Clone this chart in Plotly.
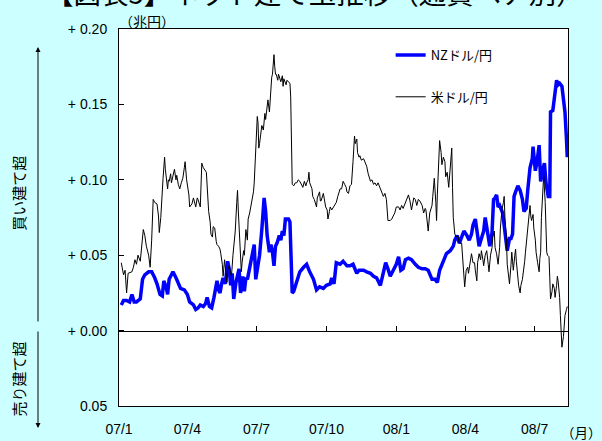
import plotly.graph_objects as go

# ---- NZドル/円 net position (trillion yen) ----
nz_dates = (
    ["2007-01-04", "2007-01-07", "2007-01-11", "2007-01-15", "2007-01-18", "2007-01-21", "2007-01-24", "2007-01-29"]
    + ["2007-02-01", "2007-02-04", "2007-02-09", "2007-02-13", "2007-02-17", "2007-02-20", "2007-02-24", "2007-02-27"]
    + ["2007-03-01", "2007-03-04", "2007-03-06", "2007-03-08", "2007-03-11", "2007-03-13", "2007-03-17", "2007-03-20", "2007-03-23", "2007-03-28"]
    + ["2007-04-01", "2007-04-04", "2007-04-09", "2007-04-12", "2007-04-15", "2007-04-18", "2007-04-22", "2007-04-25", "2007-04-27", "2007-04-30"]
    + ["2007-05-03", "2007-05-06", "2007-05-10", "2007-05-12", "2007-05-14", "2007-05-16", "2007-05-18", "2007-05-21", "2007-05-24", "2007-05-26", "2007-05-28", "2007-05-30"]
    + ["2007-06-01", "2007-06-04", "2007-06-06", "2007-06-08", "2007-06-10", "2007-06-13", "2007-06-15", "2007-06-17", "2007-06-19", "2007-06-21", "2007-06-24", "2007-06-26", "2007-06-28", "2007-06-30"]
    + ["2007-07-02", "2007-07-05", "2007-07-08", "2007-07-10", "2007-07-11", "2007-07-13", "2007-07-15", "2007-07-18", "2007-07-20", "2007-07-22", "2007-07-24", "2007-07-26", "2007-07-28", "2007-07-31"]
    + ["2007-08-02", "2007-08-04", "2007-08-06", "2007-08-08", "2007-08-12", "2007-08-14", "2007-08-15", "2007-08-17", "2007-08-19", "2007-08-23", "2007-08-27"]
    + ["2007-09-01", "2007-09-05", "2007-09-09", "2007-09-14", "2007-09-18", "2007-09-22", "2007-09-27"]
    + ["2007-10-01", "2007-10-06", "2007-10-08", "2007-10-11", "2007-10-14", "2007-10-19", "2007-10-23", "2007-10-28"]
    + ["2007-11-01", "2007-11-05", "2007-11-10", "2007-11-13", "2007-11-14", "2007-11-19", "2007-11-23", "2007-11-28"]
    + ["2007-12-02", "2007-12-06", "2007-12-11", "2007-12-15", "2007-12-18", "2007-12-21", "2007-12-24", "2007-12-28"]
    + ["2008-01-01", "2008-01-04", "2008-01-07", "2008-01-10", "2008-01-13", "2008-01-17", "2008-01-21", "2008-01-26", "2008-01-30"]
    + ["2008-02-04", "2008-02-08", "2008-02-12", "2008-02-17", "2008-02-21", "2008-02-24", "2008-02-27"]
    + ["2008-03-03", "2008-03-07", "2008-03-12", "2008-03-16", "2008-03-18", "2008-03-21", "2008-03-24", "2008-03-27", "2008-03-30"]
    + ["2008-04-03", "2008-04-06", "2008-04-09", "2008-04-11", "2008-04-14", "2008-04-17", "2008-04-19", "2008-04-22", "2008-04-25", "2008-04-27", "2008-04-30"]
    + ["2008-05-03", "2008-05-06", "2008-05-08", "2008-05-10", "2008-05-12", "2008-05-14", "2008-05-16", "2008-05-20", "2008-05-22", "2008-05-24", "2008-05-26", "2008-05-29", "2008-05-31"]
    + ["2008-06-02", "2008-06-04", "2008-06-06", "2008-06-09", "2008-06-12", "2008-06-15", "2008-06-17", "2008-06-20", "2008-06-22", "2008-06-25", "2008-06-28", "2008-06-29"]
    + ["2008-07-02", "2008-07-04", "2008-07-07", "2008-07-09", "2008-07-12", "2008-07-14", "2008-07-16", "2008-07-19", "2008-07-21", "2008-07-22", "2008-07-25", "2008-07-28", "2008-07-30"]
    + ["2008-08-01", "2008-08-03", "2008-08-06", "2008-08-08", "2008-08-10", "2008-08-12", "2008-08-13"]
)
nz_values = (
    [0.017, 0.020, 0.020, 0.019, 0.024, 0.019, 0.019, 0.021]
    + [0.034, 0.037, 0.039, 0.039, 0.035, 0.031, 0.024, 0.023]
    + [0.033, 0.029, 0.024, 0.034, 0.037, 0.039, 0.035, 0.032, 0.028, 0.027]
    + [0.024, 0.019, 0.017, 0.014, 0.015, 0.017, 0.016, 0.018, 0.022, 0.016]
    + [0.015, 0.022, 0.033, 0.027, 0.025, 0.031, 0.035, 0.031, 0.046, 0.041, 0.030, 0.038]
    + [0.021, 0.032, 0.036, 0.041, 0.025, 0.036, 0.026, 0.035, 0.034, 0.039, 0.047, 0.051, 0.057, 0.034]
    + [0.041, 0.050, 0.067, 0.083, 0.088, 0.079, 0.063, 0.052, 0.057, 0.052, 0.043, 0.056, 0.058, 0.063]
    + [0.060, 0.066, 0.063, 0.074, 0.074, 0.072, 0.048, 0.025, 0.026, 0.033, 0.039]
    + [0.042, 0.044, 0.039, 0.034, 0.027, 0.029, 0.028]
    + [0.030, 0.031, 0.035, 0.031, 0.045, 0.044, 0.046, 0.043]
    + [0.043, 0.044, 0.038, 0.040, 0.040, 0.040, 0.039, 0.038]
    + [0.036, 0.035, 0.030, 0.038, 0.045, 0.041, 0.036, 0.040]
    + [0.044, 0.049, 0.040, 0.041, 0.047, 0.048, 0.047, 0.044, 0.042]
    + [0.041, 0.041, 0.040, 0.034, 0.034, 0.032, 0.040]
    + [0.047, 0.051, 0.053, 0.056, 0.060, 0.063, 0.058, 0.063, 0.066]
    + [0.063, 0.060, 0.064, 0.070, 0.074, 0.063, 0.056, 0.061, 0.066, 0.075, 0.066]
    + [0.056, 0.065, 0.087, 0.088, 0.090, 0.082, 0.083, 0.078, 0.069, 0.064, 0.053, 0.061, 0.061]
    + [0.064, 0.089, 0.092, 0.096, 0.093, 0.087, 0.079, 0.081, 0.093, 0.108, 0.114, 0.122]
    + [0.106, 0.111, 0.123, 0.099, 0.107, 0.111, 0.098, 0.089, 0.089, 0.145, 0.146, 0.161, 0.166]
    + [0.163, 0.164, 0.162, 0.154, 0.145, 0.127, 0.115]
)

# ---- 米ドル/円 net position (trillion yen) ----
us_dates = (
    ["2007-01-04", "2007-01-07", "2007-01-09", "2007-01-11", "2007-01-13", "2007-01-18", "2007-01-20", "2007-01-22", "2007-01-24", "2007-01-26", "2007-01-29", "2007-01-31"]
    + ["2007-02-02", "2007-02-04", "2007-02-06", "2007-02-09", "2007-02-11", "2007-02-13", "2007-02-15", "2007-02-17", "2007-02-20", "2007-02-22", "2007-02-23", "2007-02-25", "2007-02-26", "2007-02-28"]
    + ["2007-03-02", "2007-03-03", "2007-03-06", "2007-03-07", "2007-03-08", "2007-03-10", "2007-03-11", "2007-03-13", "2007-03-15", "2007-03-17", "2007-03-18", "2007-03-20", "2007-03-22", "2007-03-24", "2007-03-26", "2007-03-28", "2007-03-29", "2007-03-31"]
    + ["2007-04-01", "2007-04-03", "2007-04-04", "2007-04-07", "2007-04-09", "2007-04-11", "2007-04-12", "2007-04-14", "2007-04-15", "2007-04-18", "2007-04-20", "2007-04-22", "2007-04-24", "2007-04-26", "2007-04-29"]
    + ["2007-05-01", "2007-05-02", "2007-05-04", "2007-05-05", "2007-05-07", "2007-05-09", "2007-05-10", "2007-05-12", "2007-05-14", "2007-05-15", "2007-05-17", "2007-05-18", "2007-05-20", "2007-05-23", "2007-05-24", "2007-05-26", "2007-05-28", "2007-05-29", "2007-05-31"]
    + ["2007-06-03", "2007-06-05", "2007-06-06", "2007-06-07", "2007-06-09", "2007-06-11", "2007-06-12", "2007-06-14", "2007-06-15", "2007-06-17", "2007-06-19", "2007-06-20", "2007-06-22", "2007-06-25", "2007-06-27", "2007-06-28", "2007-06-29", "2007-06-30"]
    + ["2007-07-01", "2007-07-02", "2007-07-03", "2007-07-04", "2007-07-05", "2007-07-08", "2007-07-10", "2007-07-11", "2007-07-12", "2007-07-13", "2007-07-15", "2007-07-16", "2007-07-18", "2007-07-19", "2007-07-20", "2007-07-21", "2007-07-22", "2007-07-24", "2007-07-25", "2007-07-26", "2007-07-27", "2007-07-29", "2007-07-30"]
    + ["2007-08-01", "2007-08-02", "2007-08-04", "2007-08-05", "2007-08-06", "2007-08-07", "2007-08-09", "2007-08-10", "2007-08-12", "2007-08-14", "2007-08-15", "2007-08-16", "2007-08-17", "2007-08-19", "2007-08-21", "2007-08-23", "2007-08-25", "2007-08-27", "2007-08-29", "2007-08-31"]
    + ["2007-09-02", "2007-09-04", "2007-09-05", "2007-09-07", "2007-09-08", "2007-09-09", "2007-09-12", "2007-09-13", "2007-09-15", "2007-09-16", "2007-09-18", "2007-09-19", "2007-09-22", "2007-09-23", "2007-09-24", "2007-09-27", "2007-09-29", "2007-09-30"]
    + ["2007-10-02", "2007-10-03", "2007-10-05", "2007-10-06", "2007-10-08", "2007-10-10", "2007-10-12", "2007-10-14", "2007-10-16", "2007-10-19", "2007-10-21", "2007-10-23", "2007-10-25", "2007-10-27", "2007-10-28", "2007-10-30"]
    + ["2007-11-01", "2007-11-03", "2007-11-05", "2007-11-07", "2007-11-08", "2007-11-10", "2007-11-11", "2007-11-13", "2007-11-14", "2007-11-16", "2007-11-19", "2007-11-21", "2007-11-23", "2007-11-25", "2007-11-28", "2007-11-30"]
    + ["2007-12-02", "2007-12-04", "2007-12-06", "2007-12-08", "2007-12-10", "2007-12-13", "2007-12-15", "2007-12-17", "2007-12-19", "2007-12-21", "2007-12-24", "2007-12-26", "2007-12-28", "2007-12-30"]
    + ["2008-01-01", "2008-01-04", "2008-01-06", "2008-01-08", "2008-01-10", "2008-01-13", "2008-01-15", "2008-01-17", "2008-01-19", "2008-01-21", "2008-01-24", "2008-01-26", "2008-01-28", "2008-01-30"]
    + ["2008-02-01", "2008-02-04", "2008-02-06", "2008-02-08", "2008-02-09", "2008-02-11", "2008-02-12", "2008-02-14", "2008-02-17", "2008-02-18", "2008-02-20", "2008-02-22", "2008-02-23", "2008-02-24", "2008-02-26", "2008-02-27", "2008-02-29"]
    + ["2008-03-01", "2008-03-03", "2008-03-05", "2008-03-06", "2008-03-08", "2008-03-10", "2008-03-12", "2008-03-14", "2008-03-15", "2008-03-16", "2008-03-18", "2008-03-20", "2008-03-22", "2008-03-24", "2008-03-27", "2008-03-28", "2008-03-30", "2008-03-31"]
    + ["2008-04-02", "2008-04-04", "2008-04-05", "2008-04-07", "2008-04-09", "2008-04-11", "2008-04-13", "2008-04-14", "2008-04-16", "2008-04-17", "2008-04-19", "2008-04-21", "2008-04-22", "2008-04-24", "2008-04-25", "2008-04-27", "2008-04-29"]
    + ["2008-05-01", "2008-05-02", "2008-05-04", "2008-05-06", "2008-05-07", "2008-05-09", "2008-05-10", "2008-05-12", "2008-05-14", "2008-05-16", "2008-05-17", "2008-05-19", "2008-05-21", "2008-05-22", "2008-05-23", "2008-05-25", "2008-05-26", "2008-05-28", "2008-05-29", "2008-05-31"]
    + ["2008-06-01", "2008-06-02", "2008-06-03", "2008-06-05", "2008-06-06", "2008-06-07", "2008-06-09", "2008-06-10", "2008-06-12", "2008-06-13", "2008-06-15", "2008-06-17", "2008-06-18", "2008-06-19", "2008-06-20", "2008-06-22", "2008-06-23", "2008-06-25", "2008-06-26", "2008-06-27", "2008-06-29", "2008-06-30"]
    + ["2008-07-02", "2008-07-03", "2008-07-05", "2008-07-07", "2008-07-08", "2008-07-09", "2008-07-10", "2008-07-12", "2008-07-13", "2008-07-15", "2008-07-16", "2008-07-17", "2008-07-18", "2008-07-20", "2008-07-21", "2008-07-22", "2008-07-24", "2008-07-25", "2008-07-27", "2008-07-28", "2008-07-30", "2008-07-31"]
    + ["2008-08-01", "2008-08-03", "2008-08-04", "2008-08-05", "2008-08-06", "2008-08-08", "2008-08-09", "2008-08-10", "2008-08-12", "2008-08-13"]
)
us_values = (
    [0.045, 0.037, 0.040, 0.025, 0.038, 0.039, 0.042, 0.047, 0.044, 0.050, 0.046, 0.056]
    + [0.067, 0.063, 0.056, 0.050, 0.042, 0.060, 0.087, 0.085, 0.084, 0.076, 0.065, 0.075, 0.087, 0.101]
    + [0.115, 0.107, 0.094, 0.100, 0.099, 0.104, 0.098, 0.104, 0.107, 0.100, 0.103, 0.097, 0.094, 0.098, 0.101, 0.108, 0.112, 0.100]
    + [0.097, 0.090, 0.082, 0.084, 0.088, 0.083, 0.082, 0.088, 0.087, 0.082, 0.111, 0.108, 0.106, 0.105, 0.079]
    + [0.072, 0.064, 0.062, 0.069, 0.068, 0.059, 0.057, 0.056, 0.054, 0.051, 0.044, 0.036, 0.047, 0.032, 0.040, 0.043, 0.037, 0.036, 0.050]
    + [0.066, 0.085, 0.093, 0.080, 0.060, 0.039, 0.045, 0.053, 0.050, 0.067, 0.060, 0.074, 0.078, 0.085, 0.092, 0.098, 0.112, 0.119]
    + [0.132, 0.142, 0.138, 0.121, 0.124, 0.136, 0.133, 0.140, 0.144, 0.140, 0.147, 0.153, 0.145, 0.155, 0.163, 0.168, 0.170, 0.183, 0.175, 0.170, 0.170, 0.166, 0.170]
    + [0.167, 0.165, 0.169, 0.162, 0.167, 0.165, 0.163, 0.166, 0.165, 0.164, 0.155, 0.120, 0.097, 0.096, 0.098, 0.098, 0.100, 0.099, 0.097, 0.095]
    + [0.099, 0.096, 0.098, 0.100, 0.105, 0.098, 0.094, 0.089, 0.087, 0.085, 0.082, 0.088, 0.092, 0.086, 0.086, 0.091, 0.085, 0.082]
    + [0.080, 0.074, 0.079, 0.082, 0.080, 0.082, 0.083, 0.085, 0.089, 0.094, 0.094, 0.099, 0.097, 0.095, 0.092, 0.091]
    + [0.096, 0.097, 0.112, 0.129, 0.124, 0.127, 0.118, 0.115, 0.116, 0.113, 0.114, 0.111, 0.109, 0.104, 0.099, 0.100]
    + [0.097, 0.098, 0.096, 0.098, 0.095, 0.092, 0.089, 0.091, 0.087, 0.073, 0.073, 0.074, 0.076, 0.078]
    + [0.082, 0.082, 0.080, 0.083, 0.081, 0.085, 0.087, 0.090, 0.086, 0.080, 0.088, 0.087, 0.083, 0.087]
    + [0.086, 0.083, 0.078, 0.081, 0.080, 0.072, 0.066, 0.078, 0.083, 0.089, 0.101, 0.085, 0.073, 0.090, 0.110, 0.126, 0.118]
    + [0.110, 0.115, 0.112, 0.102, 0.105, 0.095, 0.110, 0.121, 0.095, 0.075, 0.064, 0.062, 0.063, 0.058, 0.058, 0.052, 0.040, 0.029]
    + [0.040, 0.042, 0.038, 0.046, 0.051, 0.045, 0.045, 0.040, 0.033, 0.045, 0.051, 0.047, 0.053, 0.047, 0.043, 0.050, 0.053]
    + [0.044, 0.039, 0.050, 0.055, 0.062, 0.066, 0.055, 0.051, 0.044, 0.055, 0.068, 0.080, 0.085, 0.089, 0.075, 0.060, 0.044, 0.035, 0.031, 0.044]
    + [0.052, 0.046, 0.040, 0.050, 0.054, 0.046, 0.034, 0.030, 0.025, 0.030, 0.034, 0.040, 0.046, 0.052, 0.057, 0.065, 0.073, 0.083, 0.076, 0.073, 0.077, 0.068]
    + [0.060, 0.052, 0.045, 0.039, 0.048, 0.052, 0.075, 0.090, 0.103, 0.085, 0.066, 0.052, 0.050, 0.049, 0.035, 0.021, 0.026, 0.031, 0.028, 0.022, 0.030, 0.036]
    + [0.033, 0.022, 0.010, 0.002, -0.011, -0.004, 0.003, 0.010, 0.014, 0.016]
)

# ---- axis labels ----
month_ticks = ["2007-01-01", "2007-04-01", "2007-07-01", "2007-10-01", "2008-01-01", "2008-04-01", "2008-07-01"]
month_labels = ["07/1", "07/4", "07/7", "07/10", "08/1", "08/4", "08/7"]
y_ticks = [-0.05, 0.0, 0.05, 0.10, 0.15, 0.20]
y_labels = ["0.05", "+ 0.00", "+ 0.05", "+ 0.10", "+ 0.15", "+ 0.20"]

FONT = "Liberation Sans, Noto Sans CJK JP, sans-serif"
JP_FONT = "Noto Sans CJK JP, sans-serif"
x_range = ["2007-01-01", "2008-08-14"]

fig = go.Figure()
fig.add_trace(go.Scatter(
    x=nz_dates, y=nz_values, mode="lines", name="NZドル/円",
    line=dict(color="#0000FF", width=3.5), legendgroup="nz",
))
fig.add_trace(go.Scatter(
    x=us_dates, y=us_values, mode="lines", name="米ドル/円",
    line=dict(color="#000000", width=1), legendgroup="us", xaxis="x2",
))

fig.update_layout(
    width=602, height=441,
    margin=dict(l=119, r=34, t=29, b=35, autoexpand=False),
    paper_bgcolor="#CCFFFF",
    plot_bgcolor="#FFFFFF",
    font=dict(family=FONT, size=13, color="#000000"),
    showlegend=True,
    legend=dict(
        x=0.605, y=0.971, xanchor="left", yanchor="top",
        bgcolor="rgba(0,0,0,0)", font=dict(family=JP_FONT, size=13),
        tracegroupgap=22, traceorder="grouped", itemwidth=30,
    ),
    xaxis=dict(
        type="date", range=x_range, tickvals=month_ticks, ticktext=month_labels,
        ticks="", showgrid=False, zeroline=False, automargin=False,
        showline=True, mirror=True, linecolor="#000000", linewidth=1,
        tickfont=dict(size=14), ticklabelstandoff=10,
    ),
    xaxis2=dict(
        type="date", range=x_range, overlaying="x", anchor="free", position=0.2,
        tickvals=month_ticks, showticklabels=False, automargin=False,
        ticks="inside", ticklen=5, tickcolor="#000000",
        showgrid=False, zeroline=False,
        showline=True, linecolor="#000000", linewidth=1,
    ),
    yaxis=dict(
        range=[-0.05, 0.20], tickvals=y_ticks, ticktext=y_labels,
        ticks="inside", ticklen=5, tickcolor="#000000",
        showgrid=False, zeroline=False, automargin=False,
        showline=True, mirror=True, linecolor="#000000", linewidth=1,
        tickfont=dict(size=14), ticklabelstandoff=8,
    ),
)

# title (runs off the top edge of the page)
fig.add_annotation(
    text="【図表5】ネット建て玉推移（通貨ペア別）", xref="paper", yref="paper",
    x=0.4365, y=1.099, xanchor="center", yanchor="middle", showarrow=False,
    font=dict(family=JP_FONT, size=27.5, color="#000000"),
)
# unit labels
fig.add_annotation(
    text="（兆円）", xref="paper", yref="paper", x=0.062, y=1.020, xanchor="center",
    yanchor="middle", showarrow=False, font=dict(family=JP_FONT, size=14),
)
fig.add_annotation(
    text="（月）", xref="paper", yref="paper", x=1.03, y=-0.068, xanchor="center",
    yanchor="middle", showarrow=False, font=dict(family=JP_FONT, size=13.5),
)
# long / short side captions with arrows
fig.add_annotation(
    text="買い建て超", xref="paper", yref="paper", x=-0.2233, y=0.565,
    xanchor="center", yanchor="middle",
    textangle=-90, showarrow=False, font=dict(family=JP_FONT, size=15),
)
fig.add_annotation(
    text="売り建て超", xref="paper", yref="paper", x=-0.2233, y=0.072,
    xanchor="center", yanchor="middle",
    textangle=-90, showarrow=False, font=dict(family=JP_FONT, size=15),
)
fig.add_annotation(
    text="", xref="paper", yref="paper", x=-0.1804, y=0.9523,
    ax=0, ay=276, axref="pixel", ayref="pixel",
    showarrow=True, arrowhead=2, arrowsize=1, arrowwidth=1, arrowcolor="#000000",
)
fig.add_annotation(
    text="", xref="paper", yref="paper", x=-0.1804, y=-0.0584,
    ax=0, ay=-98, axref="pixel", ayref="pixel",
    showarrow=True, arrowhead=2, arrowsize=1, arrowwidth=1, arrowcolor="#000000",
)

fig.write_html("out.html")
